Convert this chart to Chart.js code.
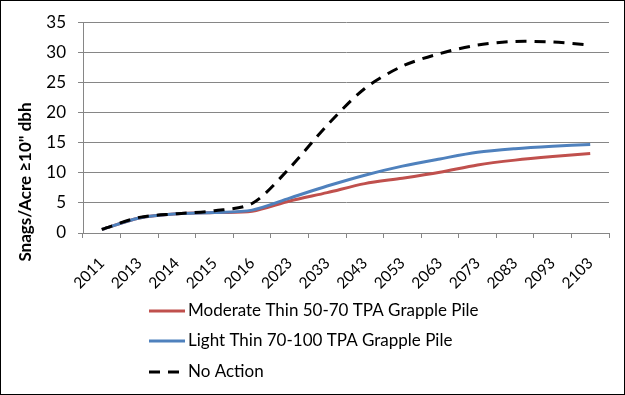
<!DOCTYPE html>
<html>
<head>
<meta charset="utf-8">
<script src="https://cdn.jsdelivr.net/npm/chart.js@4.4.1/dist/chart.umd.min.js"></script>
<style>
html, body { margin: 0; padding: 0; background: #ffffff; }
#wrap { width: 625px; height: 395px; position: relative; }
</style>
</head>
<body>
<div id="wrap"><canvas id="chart"></canvas></div>
<script>
// ---- data ----
const categories = ['2011', '2013', '2014', '2015', '2016', '2023', '2033', '2043', '2053', '2063', '2073', '2083', '2093', '2103'];
const moderateThin = [0.6, 2.5, 3.2, 3.4, 3.6, 5.3, 6.7, 8.2, 9.1, 10.1, 11.3, 12.1, 12.7, 13.2];
const lightThin    = [0.6, 2.5, 3.2, 3.4, 3.8, 5.8, 7.8, 9.6, 11.1, 12.3, 13.4, 14.0, 14.4, 14.7];
const noAction     = [0.6, 2.6, 3.2, 3.7, 4.9, 10.8, 17.9, 24.0, 27.7, 29.8, 31.2, 31.8, 31.7, 31.2];
const seriesNames = ['Moderate Thin 50-70 TPA Grapple Pile', 'Light Thin 70-100 TPA Grapple Pile', 'No Action'];
const yTickValues = [0, 5, 10, 15, 20, 25, 30, 35];
const yAxisTitle = 'Snags/Acre \u226510" dbh';

const FONT = 'Lato';
const GRID = '#868686';

// custom vertical legend + axis title + outer frame
const decorPlugin = {
  id: 'decor',
  afterDraw(chart) {
    const ctx = chart.ctx;
    ctx.save();
    // y axis title
    ctx.fillStyle = '#000';
    ctx.font = 'bold 17px ' + FONT;
    ctx.textAlign = 'center';
    ctx.textBaseline = 'middle';
    ctx.translate(26, 182);
    ctx.rotate(-Math.PI / 2);
    ctx.fillText(yAxisTitle, 0, 0);
    ctx.restore();

    // legend
    ctx.save();
    const rows = [311, 341, 372];
    chart.data.datasets.forEach((ds, i) => {
      const y = rows[i];
      ctx.strokeStyle = ds.borderColor;
      ctx.lineWidth = ds.borderWidth;
      ctx.setLineDash(ds.borderDash || []);
      ctx.beginPath();
      ctx.moveTo(149, y);
      ctx.lineTo(185, y);
      ctx.stroke();
      ctx.setLineDash([]);
      ctx.fillStyle = '#000';
      ctx.font = '17px ' + FONT;
      ctx.textAlign = 'left';
      ctx.textBaseline = 'middle';
      ctx.fillText(ds.label, 188, y);
    });
    ctx.restore();

    // frame
    ctx.save();
    ctx.strokeStyle = '#000';
    ctx.lineWidth = 1;
    ctx.strokeRect(0.5, 0.5, chart.width - 1, chart.height - 1);
    ctx.restore();
  }
};

function build() {
  Chart.defaults.font.family = FONT;
  new Chart(document.getElementById('chart'), {
    type: 'line',
    data: {
      labels: categories,
      datasets: [
        { label: seriesNames[0], data: moderateThin, borderColor: '#C0504D', borderWidth: 3, order: 2 },
        { label: seriesNames[1], data: lightThin, borderColor: '#4F81BD', borderWidth: 3, order: 1 },
        { label: seriesNames[2], data: noAction, borderColor: '#000000', borderWidth: 3, borderDash: [11, 8], order: 0 }
      ]
    },
    options: {
      responsive: true,
      maintainAspectRatio: false,
      animation: false,
      devicePixelRatio: 1,
      elements: {
        point: { radius: 0, hoverRadius: 0 },
        line: { tension: 0.3, fill: false, borderCapStyle: 'butt' }
      },
      layout: { padding: { left: 0, right: 16, top: 18, bottom: 100 } },
      plugins: { legend: { display: false }, tooltip: { enabled: false } },
      scales: {
        x: {
          type: 'category',
          offset: true,
          afterFit: s => { s.height = 62; },
          grid: { display: true, drawOnChartArea: false, drawTicks: true, tickLength: 5, color: GRID, offset: true },
          border: { display: true, color: GRID, width: 1 },
          ticks: { autoSkip: false, minRotation: 45, maxRotation: 45, color: '#000', font: { size: 15.5, family: FONT }, padding: 16, labelOffset: 0 }
        },
        y: {
          min: 0,
          max: 35,
          afterFit: s => { s.width = 83; },
          afterBuildTicks: s => { s.ticks = yTickValues.map(v => ({ value: v })); },
          grid: { color: GRID, tickLength: 5, drawTicks: true },
          border: { display: true, color: GRID, width: 1 },
          ticks: { color: '#000', font: { size: 17, family: FONT }, padding: 12 }
        }
      }
    },
    plugins: [decorPlugin]
  });
}

if (document.fonts && document.fonts.load) {
  Promise.all([
    document.fonts.load('17px Lato'),
    document.fonts.load('15.5px Lato'),
    document.fonts.load('bold 17px Lato')
  ]).then(build, build);
} else {
  build();
}
</script>
</body>
</html>
